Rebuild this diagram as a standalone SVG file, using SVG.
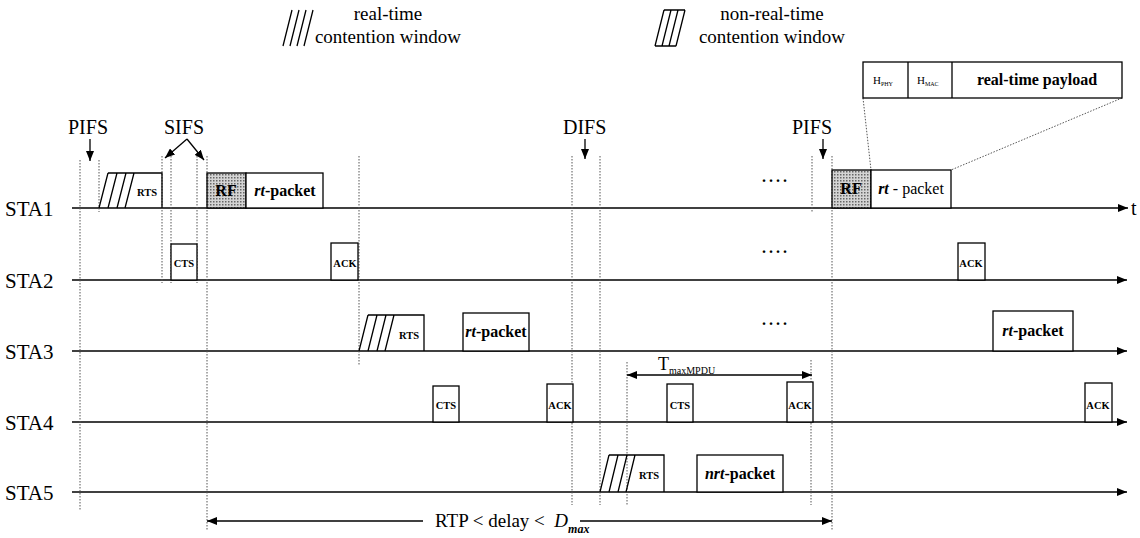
<svg xmlns="http://www.w3.org/2000/svg" width="1140" height="538" viewBox="0 0 1140 538">
<defs>
<style>
text{font-family:"Liberation Serif","Times New Roman",serif;fill:#000}
.lbl{font-size:20px}
.leg{font-size:19px;text-anchor:middle}
.sta{font-size:21px}
.box{fill:#fff;stroke:#000;stroke-width:1.3}
.rf{fill:url(#stip);stroke:#000;stroke-width:1.3}
.hatch{fill:none;stroke:#000;stroke-width:1.3}
.tl{stroke:#000;stroke-width:1.5;fill:none}
.dot{stroke:#555;stroke-width:1;stroke-dasharray:1.5 1.5;fill:none}
.arr{stroke:#000;stroke-width:1.3;fill:none}
.sm{font-size:10.5px;font-weight:bold;text-anchor:middle}
.pk{font-size:16px;font-weight:bold;text-anchor:middle}
.ell{font-size:16px;letter-spacing:3px;font-weight:bold}
</style>
<marker id="ah" viewBox="0 0 10 8" refX="10" refY="4" markerWidth="10" markerHeight="8" markerUnits="userSpaceOnUse" orient="auto-start-reverse"><path d="M0,0 L10,4 L0,8 z" fill="#000"/></marker>
<pattern id="stip" width="3" height="3" patternUnits="userSpaceOnUse"><rect width="3" height="3" fill="#d4d4d4"/><rect width="1.5" height="1.5" fill="#666"/></pattern>
</defs>
<rect width="1140" height="538" fill="#fff"/>

<!-- legend -->
<g id="legend-rt">
<path class="hatch" d="M283,46 L292,10 M290,46 L299,10 M297,46 L306,10 M304,46 L313,10"/>
<text class="leg" x="388" y="20">real-time</text>
<text class="leg" x="388" y="43">contention window</text>
</g>
<g id="legend-nrt">
<path class="hatch" d="M655,46 L664,10 M662,46 L671,10 M669,46 L678,10 M676,46 L685,10 M664,10 L685,10 M655,46 L676,46"/>
<text class="leg" x="772" y="20">non-real-time</text>
<text class="leg" x="772" y="43">contention window</text>
</g>

<!-- station labels -->
<g id="labels">
<text class="sta" x="5" y="216">STA1</text>
<text class="sta" x="5" y="288">STA2</text>
<text class="sta" x="5" y="359">STA3</text>
<text class="sta" x="5" y="430">STA4</text>
<text class="sta" x="5" y="500">STA5</text>
<text class="lbl" x="1131" y="215">t</text>
<text class="lbl" x="68" y="134">PIFS</text>
<text class="lbl" x="164" y="134">SIFS</text>
<text class="lbl" x="563" y="134">DIFS</text>
<text class="lbl" x="792" y="134">PIFS</text>
<text class="ell" x="762" y="182">....</text>
<text class="ell" x="762" y="253">....</text>
<text class="ell" x="762" y="325">....</text>
</g>

<!-- connectors -->
<g id="connectors">
<line class="tl" x1="72" y1="208" x2="1128" y2="208" marker-end="url(#ah)"/>
<line class="tl" x1="72" y1="280" x2="1127" y2="280" marker-end="url(#ah)"/>
<line class="tl" x1="72" y1="351" x2="1127" y2="351" marker-end="url(#ah)"/>
<line class="tl" x1="72" y1="422" x2="1127" y2="422" marker-end="url(#ah)"/>
<line class="tl" x1="72" y1="492" x2="1127" y2="492" marker-end="url(#ah)"/>

<line class="dot" x1="80" y1="160" x2="80" y2="510"/>
<line class="dot" x1="99" y1="160" x2="99" y2="212"/>
<line class="dot" x1="162" y1="156" x2="162" y2="283"/>
<line class="dot" x1="171" y1="156" x2="171" y2="283"/>
<line class="dot" x1="197" y1="156" x2="197" y2="283"/>
<line class="dot" x1="207" y1="156" x2="207" y2="530"/>
<line class="dot" x1="359" y1="156" x2="359" y2="365"/>
<line class="dot" x1="572" y1="156" x2="572" y2="505"/>
<line class="dot" x1="600" y1="156" x2="600" y2="505"/>
<line class="dot" x1="627" y1="362" x2="627" y2="505"/>
<line class="dot" x1="812" y1="156" x2="812" y2="212"/>
<line class="dot" x1="811" y1="360" x2="811" y2="505"/>
<line class="dot" x1="832" y1="156" x2="832" y2="530"/>

<line class="arr" x1="90" y1="139" x2="90" y2="161" marker-end="url(#ah)"/>
<line class="arr" x1="187" y1="139" x2="165" y2="158" marker-end="url(#ah)"/>
<line class="arr" x1="187" y1="139" x2="204" y2="160" marker-end="url(#ah)"/>
<line class="arr" x1="585" y1="139" x2="585" y2="159" marker-end="url(#ah)"/>
<line class="arr" x1="823" y1="139" x2="823" y2="159" marker-end="url(#ah)"/>

<line class="arr" x1="627" y1="375" x2="812" y2="375" marker-start="url(#ah)" marker-end="url(#ah)"/>
<line class="arr" x1="207" y1="521" x2="423" y2="521" marker-start="url(#ah)"/>
<line class="arr" x1="580" y1="521" x2="832" y2="521" marker-end="url(#ah)"/>

<path class="dot" d="M863,98 L871,170 M1122,98 L951,170"/>
</g>

<text x="658" y="370" font-size="18">T<tspan font-size="10" dy="4">maxMPDU</tspan></text>
<text x="435" y="527" font-size="19">RTP &lt; delay &lt;&#160; <tspan font-style="italic">D</tspan><tspan font-size="12" font-style="italic" font-weight="bold" dy="6">max</tspan></text>

<!-- STA1 -->
<g id="sta1-rts">
<path class="hatch" d="M99,208 L108,173 M108,208 L117,173 M117,208 L126,173 M125,208 L134,173 M108,173 L162,173 L162,208"/>
<text class="sm" x="147" y="196">RTS</text>
</g>
<g id="sta1-rf"><rect class="rf" x="207" y="173" width="39" height="35"/><text class="pk" x="226" y="196" font-size="14">RF</text></g>
<g id="sta1-rt"><rect class="box" x="246" y="173" width="77" height="35"/><text class="pk" x="285" y="196"><tspan font-style="italic">rt</tspan>-packet</text></g>
<g id="sta1-rf2"><rect class="rf" x="832" y="170" width="39" height="38"/><text class="pk" x="851" y="194" font-size="14">RF</text></g>
<g id="sta1-rt2"><rect class="box" x="871" y="170" width="80" height="38"/><text x="911" y="194" font-size="16" text-anchor="middle"><tspan font-style="italic" font-weight="bold">rt</tspan> - packet</text></g>
<g id="payload">
<rect class="box" x="863" y="62" width="259" height="36"/>
<line class="box" x1="908" y1="62" x2="908" y2="98"/>
<line class="box" x1="952" y1="62" x2="952" y2="98"/>
<text x="873" y="84" font-size="11">H<tspan font-size="6" dy="2">PHY</tspan></text>
<text x="917" y="84" font-size="11">H<tspan font-size="6" dy="2">MAC</tspan></text>
<text class="pk" x="1037" y="85">real-time payload</text>
</g>

<!-- STA2 -->
<g id="sta2-cts"><rect class="box" x="171" y="244" width="26" height="36"/><text class="sm" x="184" y="267">CTS</text></g>
<g id="sta2-ack"><rect class="box" x="331" y="243" width="27" height="37"/><text class="sm" x="345" y="267">ACK</text></g>
<g id="sta2-ack2"><rect class="box" x="958" y="243" width="27" height="37"/><text class="sm" x="971" y="267">ACK</text></g>

<!-- STA3 -->
<g id="sta3-rts">
<path class="hatch" d="M359,351 L368,315 M368,351 L377,315 M377,351 L386,315 M385,351 L394,315 M368,315 L424,315 L424,351"/>
<text class="sm" x="409" y="339">RTS</text>
</g>
<g id="sta3-rt"><rect class="box" x="463" y="313" width="66" height="38"/><text class="pk" x="496" y="337"><tspan font-style="italic">rt</tspan>-packet</text></g>
<g id="sta3-rt2"><rect class="box" x="993" y="311" width="80" height="40"/><text class="pk" x="1033" y="336"><tspan font-style="italic">rt</tspan>-packet</text></g>

<!-- STA4 -->
<g id="sta4-cts"><rect class="box" x="433" y="386" width="26" height="36"/><text class="sm" x="446" y="409">CTS</text></g>
<g id="sta4-ack"><rect class="box" x="547" y="384" width="26" height="38"/><text class="sm" x="560" y="409">ACK</text></g>
<g id="sta4-cts2"><rect class="box" x="667" y="384" width="26" height="38"/><text class="sm" x="680" y="409">CTS</text></g>
<g id="sta4-ack2"><rect class="box" x="787" y="382" width="26" height="40"/><text class="sm" x="800" y="409">ACK</text></g>
<g id="sta4-ack3"><rect class="box" x="1085" y="383" width="27" height="39"/><text class="sm" x="1098" y="409">ACK</text></g>

<!-- STA5 -->
<g id="sta5-rts">
<path class="hatch" d="M600,492 L609,455 M609,492 L618,455 M618,492 L627,455 M626,492 L635,455 M609,455 L664,455 L664,492"/>
<text class="sm" x="649" y="479">RTS</text>
</g>
<g id="sta5-nrt"><rect class="box" x="697" y="455" width="86" height="37"/><text class="pk" x="740" y="479"><tspan font-style="italic">nrt</tspan>-packet</text></g>
</svg>
